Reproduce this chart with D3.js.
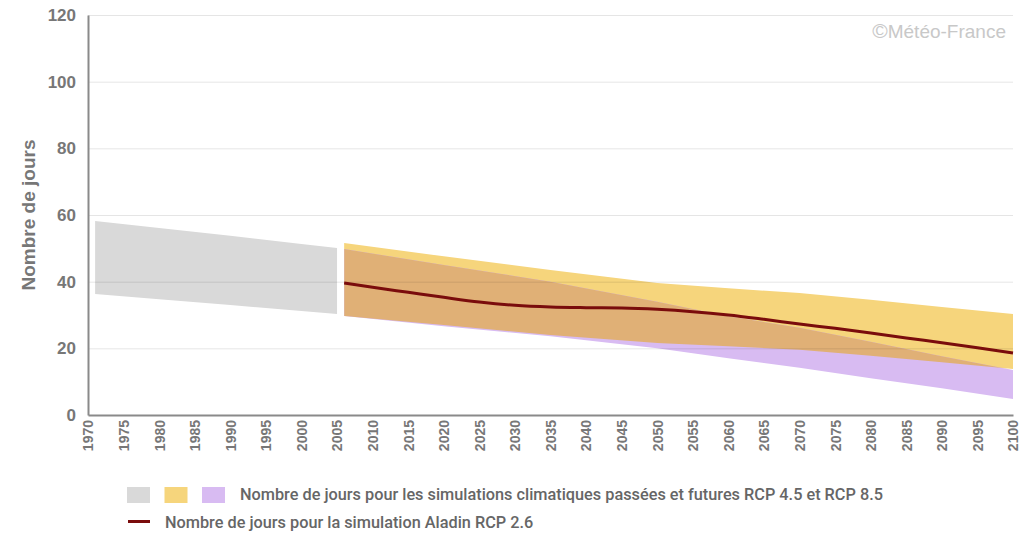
<!DOCTYPE html>
<html>
<head>
<meta charset="utf-8">
<script src="https://cdn.jsdelivr.net/npm/d3@7"></script>
<style>
  html, body { margin: 0; padding: 0; background: #fff; }
  svg { display: block; }
</style>
</head>
<body>
<svg id="chart" width="1031" height="534"></svg>
<script>
// Past simulations (grey envelope)
const pastYears = [1971, 1980, 1990, 2000, 2005];
const pastLow   = [36.3, 34.7, 33.0, 31.2, 30.3];
const pastHigh  = [58.2, 56.1, 53.8, 51.3, 50.1];

// Future simulations RCP 4.5 (yellow envelope)
const futYears  = [2006, 2020, 2035, 2050, 2060, 2070, 2080, 2090, 2100];
const rcp45Low  = [29.7, 27.0, 24.0, 21.6, 20.6, 19.6, 17.8, 15.8, 13.8];
const rcp45High = [51.6, 47.6, 43.5, 39.6, 38.0, 36.6, 34.6, 32.4, 30.3];

// Future simulations RCP 8.5 (purple envelope)
const rcp85Low  = [29.7, 26.6, 23.6, 20.0, 17.0, 14.2, 11.0, 8.0, 4.8];
const rcp85High = [49.8, 45.0, 40.0, 34.0, 29.6, 26.2, 22.0, 17.6, 13.5];

// Aladin RCP 2.6 simulation
const aladinYears = [2006, 2010, 2015, 2020, 2025, 2030, 2035, 2040, 2045, 2050,
                     2055, 2060, 2065, 2070, 2075, 2080, 2085, 2090, 2095, 2100];
const aladinVals  = [39.6, 38.3, 36.8, 35.3, 33.9, 32.9, 32.4, 32.2, 32.1, 31.7,
                     31.0, 30.0, 28.7, 27.3, 26.0, 24.6, 23.1, 21.7, 20.2, 18.6];

const yTicks = [0, 20, 40, 60, 80, 100, 120];
const xTicks = d3.range(1970, 2101, 5);

const legendBandsLabel = "Nombre de jours pour les simulations climatiques passées et futures RCP 4.5 et RCP 8.5";
const legendLineLabel  = "Nombre de jours pour la simulation Aladin RCP 2.6";
const yTitle = "Nombre de jours";
const creditSymbol = "©";
const creditText = "Météo-France";

const colors = {
  past: "#d9d9d9",
  rcp45: "#f6d57c",
  rcp85: "#d8bbf2",
  overlap: "#e0b076",
  line: "#7a0c0c",
  axis: "#8a8a8a",
  tick: "#777",
  legend: "#666"
};

const svg = d3.select("#chart");
const x = d3.scaleLinear().domain([1970, 2100]).range([88, 1013]);
const y = d3.scaleLinear().domain([0, 120]).range([415, 15]);

const zip = (xs, lo, hi) => xs.map((yr, i) => ({ yr, lo: lo[i], hi: hi[i] }));
const band = d3.area().x(d => x(d.yr)).y0(d => y(d.lo)).y1(d => y(d.hi));

const past = zip(pastYears, pastLow, pastHigh);
const r45 = zip(futYears, rcp45Low, rcp45High);
const r85 = zip(futYears, rcp85Low, rcp85High);

// envelopes
svg.append("path").attr("d", band(past)).attr("fill", colors.past);
svg.append("path").attr("d", band(r45)).attr("fill", colors.rcp45);
svg.append("path").attr("d", band(r85)).attr("fill", colors.rcp85);

// overlap of the two future envelopes
svg.append("clipPath").attr("id", "clip45")
  .append("path").attr("d", band(r45));
svg.append("path").attr("d", band(r85))
  .attr("fill", colors.overlap)
  .attr("clip-path", "url(#clip45)");

// horizontal grid
svg.append("g").selectAll("line").data(yTicks.filter(v => v > 0)).join("line")
  .attr("x1", x(1970)).attr("x2", x(2100))
  .attr("y1", d => y(d) + 0.5).attr("y2", d => y(d) + 0.5)
  .attr("stroke", "#000").attr("stroke-opacity", 0.1).attr("stroke-width", 1);

// Aladin line
const line = d3.line().x((d, i) => x(aladinYears[i])).y(d => y(d)).curve(d3.curveMonotoneX);
svg.append("path").attr("d", line(aladinVals))
  .attr("fill", "none").attr("stroke", colors.line).attr("stroke-width", 3);

// axes
const yAxis = svg.append("g").attr("transform", `translate(${x(1970)},0)`)
  .call(d3.axisLeft(y).tickValues(yTicks).tickSize(0).tickPadding(12));
yAxis.select(".domain").attr("stroke", colors.axis).attr("stroke-width", 2);
yAxis.selectAll("text")
  .attr("fill", colors.tick)
  .style("font", "bold 17px 'Liberation Sans', Arial, sans-serif");

const xAxis = svg.append("g").attr("transform", `translate(0,${y(0)})`)
  .call(d3.axisBottom(x).tickValues(xTicks).tickFormat(d3.format("d")).tickSize(0));
xAxis.select(".domain").attr("stroke", colors.axis).attr("stroke-width", 2);
xAxis.selectAll("text")
  .attr("fill", colors.tick)
  .attr("transform", "rotate(-90)")
  .attr("x", -5).attr("y", 0).attr("dy", "0.35em")
  .attr("text-anchor", "end")
  .style("font", "bold 14px 'Liberation Sans', Arial, sans-serif");

// y title
svg.append("text")
  .attr("transform", `translate(35,215) rotate(-90)`)
  .attr("text-anchor", "middle")
  .attr("fill", colors.tick)
  .style("font", "bold 19px 'Liberation Sans', Arial, sans-serif")
  .text(yTitle);

// credit
const cr = svg.append("text")
  .attr("x", 1006).attr("y", 38)
  .attr("text-anchor", "end")
  .attr("fill", "#c8c8c8")
  .style("font", "19px 'Liberation Sans', Arial, sans-serif");
cr.append("tspan").style("font-size", "21px").text(creditSymbol);
cr.append("tspan").text(creditText);

// legend
const sw = [colors.past, colors.rcp45, colors.rcp85];
svg.append("g").selectAll("rect").data(sw).join("rect")
  .attr("x", (d, i) => 127 + i * 37.5).attr("y", 487)
  .attr("width", 23).attr("height", 16)
  .attr("fill", d => d);
svg.append("text")
  .attr("x", 240).attr("y", 500)
  .attr("fill", colors.legend)
  .style("font", "500 16.3px Roboto, 'Liberation Sans', sans-serif")
  .text(legendBandsLabel);

svg.append("line")
  .attr("x1", 128).attr("x2", 150).attr("y1", 521.5).attr("y2", 521.5)
  .attr("stroke", colors.line).attr("stroke-width", 3);
svg.append("text")
  .attr("x", 165).attr("y", 528)
  .attr("fill", colors.legend)
  .style("font", "500 16.3px Roboto, 'Liberation Sans', sans-serif")
  .text(legendLineLabel);
</script>
</body>
</html>
